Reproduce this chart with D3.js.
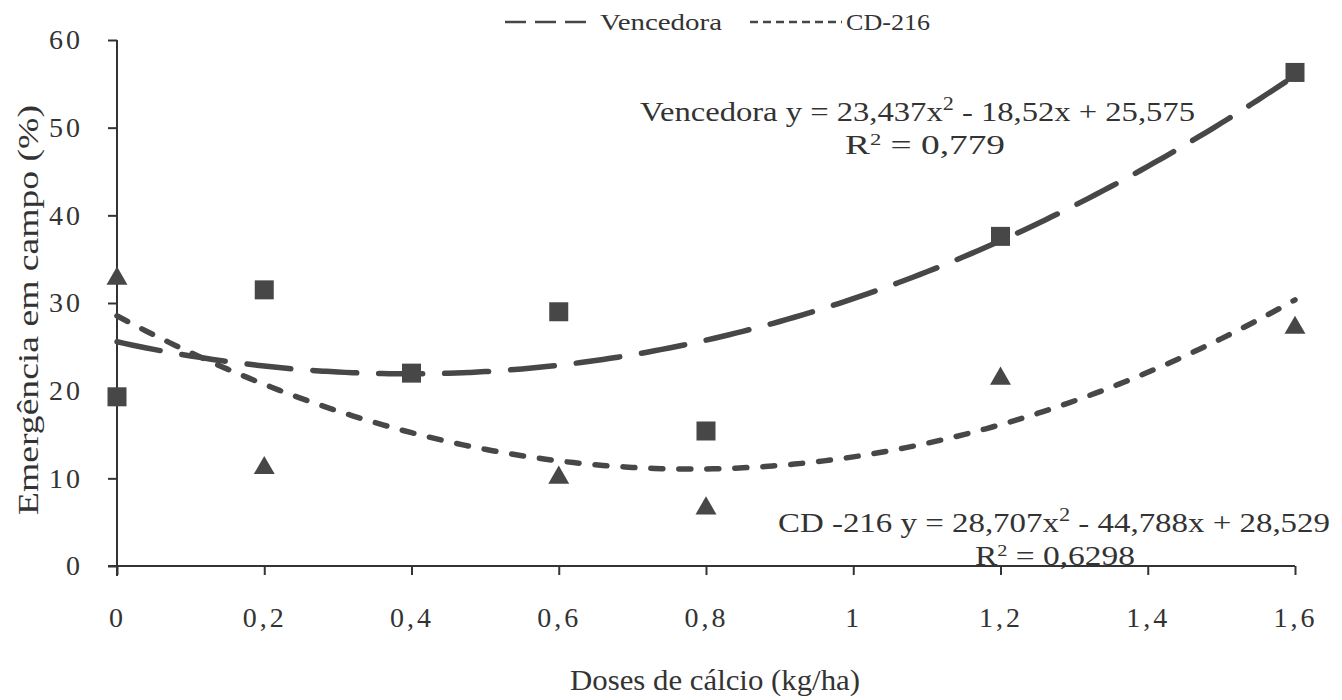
<!DOCTYPE html>
<html><head><meta charset="utf-8">
<script src="https://cdn.jsdelivr.net/npm/d3@7"></script>
<style>body{margin:0;background:#fff}svg{display:block}</style>
</head><body>
<script>
const xTicks = [0,0.2,0.4,0.6,0.8,1,1.2,1.4,1.6];
const xTickLabels = ["0","0,2","0,4","0,6","0,8","1","1,2","1,4","1,6"];
const yTicks = [0,10,20,30,40,50,60];
const vencX = [0,0.2,0.4,0.6,0.8,1.2,1.6];
const vencY = [19.3,31.5,22.0,29.0,15.4,37.6,56.3];
const cdX = [0,0.2,0.6,0.8,1.2,1.6];
const cdY = [33.0,11.4,10.3,6.8,21.6,27.4];
// trendline coefficients as printed on the chart (a x^2 + b x + c)
const vencCoef = [23.437,-18.52,25.575];
const cdCoef = [28.707,-44.788,28.529];
const trendX = d3.range(0,161).map(i=>i/100);

const FONT='"Times New Roman","Liberation Serif",serif';
const TXT="#333";
const W=1342,H=700;
const svg=d3.select("body").append("svg").attr("width",W).attr("height",H)
  .attr("font-family",FONT).attr("fill",TXT);
const x=d3.scaleLinear().domain([0,1.6]).range([117,1295]);
const y=d3.scaleLinear().domain([0,60]).range([566,40]);
const col="#474747";

// axes
const gx=svg.append("g").attr("transform","translate(0,566)")
  .call(d3.axisBottom(x).tickValues(xTicks).tickFormat((d,i)=>xTickLabels[i]).tickSize(9).tickPadding(52).tickSizeOuter(0));
const gy=svg.append("g").attr("transform","translate(117,0)")
  .call(d3.axisLeft(y).tickValues(yTicks).tickSize(9).tickPadding(25).tickSizeOuter(0));
[gx,gy].forEach(g=>{
  g.attr("font-family",FONT).attr("font-size",28);
  g.select(".domain").attr("stroke","#333").attr("stroke-width",2);
  g.selectAll(".tick line").attr("stroke","#333").attr("stroke-width",2);
  g.selectAll(".tick text").attr("fill",TXT).attr("letter-spacing",3);
});
gx.selectAll(".tick text").attr("dy","0");
gy.select(".domain").attr("d","M0,40V576");
gx.select(".domain").attr("d","M108,0H1295");

// trendlines
const quad=(c,v)=>c[0]*v*v+c[1]*v+c[2];
const line=d3.line().curve(d3.curveBasis);
svg.append("path").attr("d",line(trendX.map(v=>[x(v),y(quad(vencCoef,v))])))
  .attr("fill","none").attr("stroke",col).attr("stroke-width",5.5).attr("stroke-linecap","round").attr("stroke-dasharray","44,22");
svg.append("path").attr("d",line(trendX.map(v=>[x(v),y(quad(cdCoef,v))])))
  .attr("fill","none").attr("stroke",col).attr("stroke-width",5.5).attr("stroke-linecap","round").attr("stroke-dasharray","12,16");

// markers
svg.selectAll(".sq").data(vencX).enter().append("rect")
  .attr("x",(d)=>x(d)-9.5).attr("y",(d,i)=>y(vencY[i])-9.5).attr("width",19).attr("height",19).attr("fill",col);
const tri=d3.symbol().type(d3.symbolTriangle).size(190);
svg.selectAll(".tr").data(cdX).enter().append("path")
  .attr("d",tri).attr("transform",(d,i)=>`translate(${x(d)},${y(cdY[i])+2})`).attr("fill",col);

// legend
svg.append("line").attr("x1",505).attr("x2",592).attr("y1",22).attr("y2",22).attr("stroke",col).attr("stroke-width",2.5).attr("stroke-dasharray","21,9");
svg.append("text").attr("x",600).attr("y",30).attr("font-size",24).attr("textLength",122).attr("lengthAdjust","spacingAndGlyphs").text("Vencedora");
svg.append("line").attr("x1",750).attr("x2",842).attr("y1",22).attr("y2",22).attr("stroke",col).attr("stroke-width",2.5).attr("stroke-dasharray","8,5");
svg.append("text").attr("x",846).attr("y",30).attr("font-size",24).attr("textLength",84).attr("lengthAdjust","spacingAndGlyphs").text("CD-216");

// equations
function eqText(x0,yb,len,pre,post){
  const t=svg.append("text").attr("x",x0).attr("y",yb).attr("font-size",28)
    .attr("textLength",len).attr("lengthAdjust","spacingAndGlyphs");
  t.append("tspan").text(pre);
  t.append("tspan").text("2").attr("dy",-11).attr("font-size",19);
  t.append("tspan").text(post).attr("dy",11);
}
function r2Text(x0,yb,len,val){
  const t=svg.append("text").attr("x",x0).attr("y",yb).attr("font-size",28)
    .attr("textLength",len).attr("lengthAdjust","spacingAndGlyphs");
  t.append("tspan").text("R");
  t.append("tspan").text("2").attr("dy",-9).attr("font-size",17);
  t.append("tspan").text(" = "+val).attr("dy",9);
}
eqText(640,121,555,"Vencedora y = 23,437x"," - 18,52x + 25,575");
r2Text(845,154,160,"0,779");
eqText(778,532,552,"CD -216 y = 28,707x"," - 44,788x + 28,529");
r2Text(975,565,160,"0,6298");

// axis titles
svg.append("text").attr("x",570).attr("y",690).attr("font-size",29)
  .attr("textLength",290).attr("lengthAdjust","spacingAndGlyphs").text("Doses de cálcio (kg/ha)");
svg.append("text").attr("transform","translate(38,515) rotate(-90)").attr("font-size",29)
  .attr("textLength",410).attr("lengthAdjust","spacingAndGlyphs").text("Emergência em campo (%)");
</script>
</body></html>
